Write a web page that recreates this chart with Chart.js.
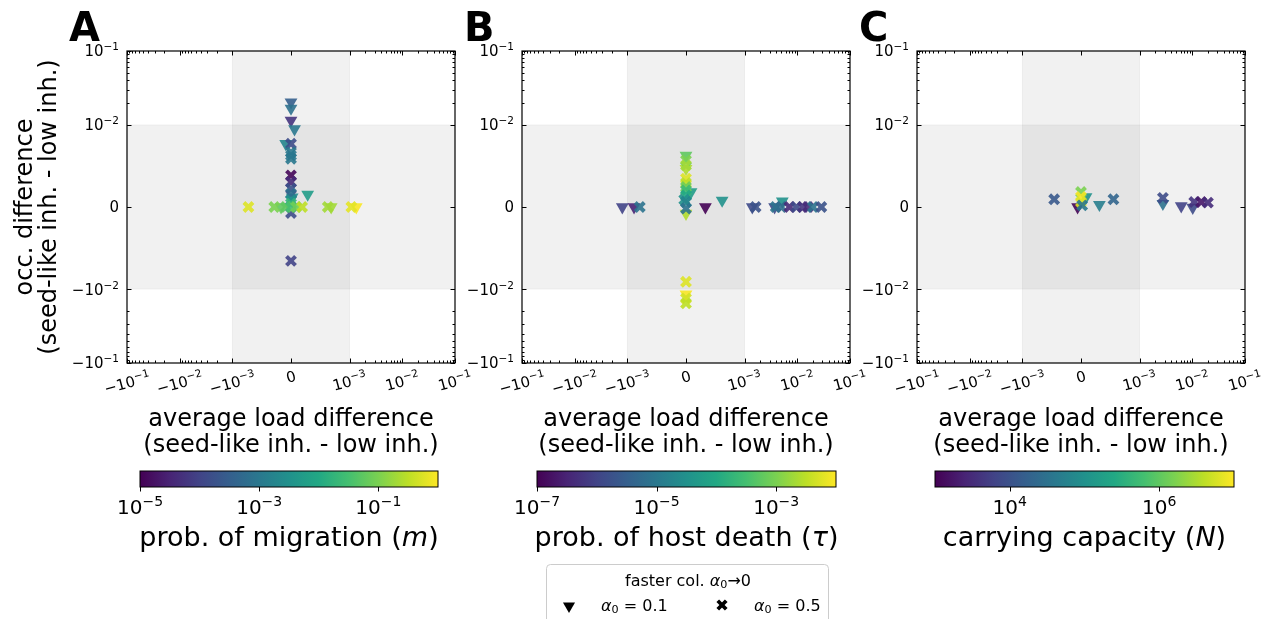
<!DOCTYPE html>
<html>
<head>
<meta charset="utf-8">
<script src="https://cdn.jsdelivr.net/npm/chart.js@4.4.1/dist/chart.umd.min.js"></script>
<style>
  body { margin: 0; background: #fff; }
  #wrap { position: relative; width: 1272px; height: 619px; overflow: hidden; }
  #wrap canvas { position: absolute; left: 0; top: 0; }
</style>
</head>
<body>
<div id="wrap">
  <canvas id="pA" width="1272" height="619"></canvas>
  <canvas id="pB" width="1272" height="619"></canvas>
  <canvas id="pC" width="1272" height="619"></canvas>
  <canvas id="cA" width="1272" height="619"></canvas>
  <canvas id="cB" width="1272" height="619"></canvas>
  <canvas id="cC" width="1272" height="619"></canvas>
</div>
<script>
// ---- data ----
// x = average load difference, y = occ. difference, c = colour variable
// panel A: prob. of migration m
const loadA_tri = [0, 0, 0, 0.00006, -0.00009, 0.000285, 0.00002, -0.00017, 0.000686, 0.00134];
const occA_tri  = [0.0203, 0.0167, 0.0115, 0.0095, 0.0077, 0.00154, 0.0012, 0, 0, 0];
const migA_tri  = [3.2e-4, 7.1e-4, 5.6e-5, 1e-3, 1.8e-3, 5.6e-3, 2.5e-3, 0.06, 0.2, 0.95];
const loadA_x = [0, 0, 0, 0, 0, 0, 0, 0, 0, 0, 0, 0, -0.000727, -0.000286, -0.000086, 0, 0.000086, 0.000189, 0.000628, 0.00108];
const occA_x  = [0.0077, 0.00668, 0.00628, 0.00588, 0.00385, 0.00304, 0.00224, 0.00163, 0.00081, 0.00041, -0.00073, -0.00656, 0, 0, 0, 0, 0, 0, 0, 0];
const migA_x  = [1.4e-4, 1e-3, 1e-3, 1e-3, 1.2e-5, 4e-5, 1.8e-4, 6.3e-4, 3.2e-3, 0.018, 1.4e-4, 1e-4, 0.56, 0.1, 0.056, 0.032, 0.08, 0.32, 0.2, 0.63];

// panel B: prob. of host death tau
const loadB_tri = [0, 0, 0.000086, 0, 0, -0.00125, -0.000887, 0.000331, 0.000617, 0.0014, 0.00371, 0.0052];
const occB_tri  = [0.00628, 0.00467, 0.00182, -0.0008, -0.0117, 0, 0, 0, 0.00081, 0, 0, 0.0007];
const tauB_tri  = [5.6e-4, 2.5e-3, 5.6e-5, 2.5e-3, 9e-3, 1e-6, 3.2e-7, 1e-7, 3.2e-5, 1.3e-6, 1.3e-6, 3.2e-5];
const loadB_x = [0, 0, 0, 0, 0, 0, 0, -0.00003, 0, 0, 0, 0, 0, -0.000789, 0.00162, 0.0039, 0.00497, 0.0071, 0.0096, 0.0128, 0.0159, 0.0198, 0.0286];
const occB_x  = [0.00567, 0.00507, 0.00345, 0.00292, 0.00243, 0.00203, 0.00142, 0.0009, 0.00061, -0.00019, -0.00911, -0.0134, -0.0156, 0, 0, 0, 0, 0, 0, 0, 0, 0, 0];
const tauB_x  = [1e-3, 2e-3, 5.6e-3, 3.2e-3, 7.9e-4, 2.5e-4, 1e-4, 3.2e-5, 1.8e-5, 7.9e-6, 5.6e-3, 4.5e-3, 3.2e-3, 7.9e-6, 1.8e-6, 7.9e-6, 5.6e-6, 4e-7, 1.3e-6, 5.6e-7, 4e-7, 7.9e-6, 1.8e-6];

// panel C: carrying capacity N
const loadC_tri = [0.000086, -0.000058, 0.000314, 0.00277, 0.00617, 0.0102];
const occC_tri  = [0.00122, 0, 0.00029, 0.00041, 0.00012, -0.00007];
const capC_tri  = [1e5, 1.1e3, 5e4, 3.2e4, 6.3e3, 7.9e3];
const loadC_x = [-0.000458, 0, 0, 0, 0.00002, 0.000554, 0.00277, 0.0109, 0.0148, 0.0198];
const occC_x  = [0.00094, 0.00182, 0.00122, 0.00061, 0.0002, 0.00094, 0.0011, 0.00061, 0.00061, 0.00053];
const capC_x  = [1.3e4, 1.6e6, 9e6, 6.3e6, 4e4, 2e4, 7.9e3, 4e3, 1.8e3, 3.2e3];

// axis ticks
const xTicks = [-0.1, -0.01, -0.001, 0, 0.001, 0.01, 0.1];
const yTicks = [-0.1, -0.01, 0, 0.01, 0.1];
const cbarTicksA = [1e-5, 1e-3, 1e-1];
const cbarTicksB = [1e-7, 1e-5, 1e-3];
const cbarTicksC = [1e4, 1e6];

const FONT = '"DejaVu Sans", "Liberation Sans", sans-serif';
const viridis = ['#440154', '#482475', '#414487', '#355f8d', '#2a788e', '#21918c',
                 '#22a884', '#44bf70', '#7ad151', '#bddf26', '#fde725'];

function hexRgb(h) {
  return [parseInt(h.slice(1, 3), 16), parseInt(h.slice(3, 5), 16), parseInt(h.slice(5, 7), 16)];
}
function viridisAt(t, alpha) {
  t = Math.min(1, Math.max(0, t));
  const s = t * 10, i = Math.min(9, Math.floor(s)), f = s - i;
  const a = hexRgb(viridis[i]), b = hexRgb(viridis[i + 1]);
  const c = a.map((v, k) => Math.round(v + (b[k] - v) * f));
  return `rgba(${c[0]},${c[1]},${c[2]},${alpha})`;
}
function colorsFor(vals, lo, hi) {
  const l0 = Math.log10(lo), l1 = Math.log10(hi);
  return vals.map(v => viridisAt((Math.log10(v) - l0) / (l1 - l0), 0.9));
}

// ---- symmetric log scale (matplotlib style, linscale 1) ----
class SymlogScale extends Chart.Scale {
  static id = 'symlog';
  static defaults = {};
  tf(v) {
    const th = this.options.linthresh, ls = 1 / (1 - 1 / 10), a = Math.abs(v);
    if (a <= th) return v / th * ls;
    return Math.sign(v) * (ls + Math.log10(a / th));
  }
  itf(t) {
    const th = this.options.linthresh, ls = 1 / (1 - 1 / 10), a = Math.abs(t);
    if (a <= ls) return t / ls * th;
    return Math.sign(t) * th * Math.pow(10, a - ls);
  }
  determineDataLimits() {
    this.min = this.options.min;
    this.max = this.options.max;
  }
  buildTicks() {
    return (this.options.tickValues || []).map(v => ({ value: v }));
  }
  getLabelForValue(v) { return String(v); }
  configure() {
    super.configure();
    this._t0 = this.tf(this.min);
    this._t1 = this.tf(this.max);
  }
  getPixelForValue(v) {
    return this.getPixelForDecimal((this.tf(v) - this._t0) / (this._t1 - this._t0));
  }
  getValueForPixel(p) {
    return this.itf(this._t0 + this.getDecimalForPixel(p) * (this._t1 - this._t0));
  }
}
Chart.register(SymlogScale);

// ---- text helpers (mathtext-like super/subscripts) ----
function partFont(p, size) {
  const s = (p.sub || p.sup) ? size * 0.7 : size;
  return (p.it ? 'italic ' : '') + (p.b ? 'bold ' : '') + s + 'px ' + FONT;
}
function partsWidth(ctx, parts, size) {
  let w = 0;
  parts.forEach(p => { ctx.font = partFont(p, size); w += ctx.measureText(p.t).width; });
  return w;
}
function drawParts(ctx, parts, x, y, size, align) {
  const w = partsWidth(ctx, parts, size);
  let cx = align === 'right' ? x - w : align === 'center' ? x - w / 2 : x;
  const base = y + size * 0.365;
  ctx.textAlign = 'left';
  ctx.textBaseline = 'alphabetic';
  parts.forEach(p => {
    ctx.font = partFont(p, size);
    const dy = p.sup ? -size * 0.4 : p.sub ? size * 0.16 : 0;
    ctx.fillText(p.t, cx, base + dy);
    cx += ctx.measureText(p.t).width;
  });
  return w;
}
function powParts(v) {
  if (v === 0) return [{ t: '0' }];
  const e = Math.round(Math.log10(Math.abs(v)));
  return [{ t: (v < 0 ? '\u2212' : '') + '10' }, { t: (e < 0 ? '\u2212' : '') + Math.abs(e), sup: true }];
}

function minorValues(lo, hi) {
  const out = [];
  for (let d = lo; d < hi; d *= 10) {
    for (let k = 2; k <= 9; k++) { out.push(k * d); out.push(-k * d); }
  }
  return out;
}

const panelDecor = {
  id: 'panelDecor',
  beforeDatasetsDraw(chart) {
    const { ctx, chartArea: a, scales: { x, y } } = chart;
    ctx.save();
    ctx.fillStyle = 'rgba(0,0,0,0.055)';
    ctx.strokeStyle = 'rgba(0,0,0,0.05)';
    ctx.lineWidth = 1;
    const x1 = x.getPixelForValue(-x.options.linthresh), x2 = x.getPixelForValue(x.options.linthresh);
    ctx.fillRect(x1, a.top, x2 - x1, a.bottom - a.top);
    ctx.strokeRect(x1, a.top, x2 - x1, a.bottom - a.top);
    const y1 = y.getPixelForValue(y.options.linthresh), y2 = y.getPixelForValue(-y.options.linthresh);
    ctx.fillRect(a.left, y1, a.right - a.left, y2 - y1);
    ctx.strokeRect(a.left, y1, a.right - a.left, y2 - y1);
    ctx.restore();
  },
  afterDatasetsDraw(chart) {
    const { ctx, chartArea: a, scales: { x, y } } = chart;
    ctx.save();
    ctx.strokeStyle = '#000';
    ctx.lineWidth = 1;
    const tick = (vals, len, horiz) => {
      ctx.beginPath();
      vals.forEach(v => {
        if (horiz) {
          const px = Math.round(x.getPixelForValue(v)) + 0.5;
          ctx.moveTo(px, a.bottom); ctx.lineTo(px, a.bottom - len);
          ctx.moveTo(px, a.top); ctx.lineTo(px, a.top + len);
        } else {
          const py = Math.round(y.getPixelForValue(v)) + 0.5;
          ctx.moveTo(a.left, py); ctx.lineTo(a.left + len, py);
          ctx.moveTo(a.right, py); ctx.lineTo(a.right - len, py);
        }
      });
      ctx.stroke();
    };
    tick(xTicks, 4.5, true);
    tick(minorValues(1e-3, 1e-1), 2.5, true);
    tick(yTicks, 4.5, false);
    tick(minorValues(1e-2, 1e-1), 2.5, false);
    ctx.lineWidth = 1.2;
    ctx.strokeRect(a.left, a.top, a.right - a.left, a.bottom - a.top);
    ctx.restore();
  },
  afterDraw(chart, args, opts) {
    const { ctx, chartArea: a, scales: { x, y } } = chart;
    ctx.save();
    ctx.fillStyle = '#000';
    const fs = 15;
    // y tick labels
    yTicks.forEach(v => drawParts(ctx, powParts(v), a.left - 8, y.getPixelForValue(v), fs, 'right'));
    // x tick labels, rotated
    const ang = 15 * Math.PI / 180;
    xTicks.forEach(v => {
      const parts = powParts(v);
      const w = partsWidth(ctx, parts, fs);
      const h = v === 0 ? fs * 0.73 : fs * 0.9;
      const H = w * Math.sin(ang) + h * Math.cos(ang);
      ctx.save();
      ctx.translate(x.getPixelForValue(v), a.bottom + 7 + H / 2);
      ctx.rotate(-ang);
      drawParts(ctx, parts, 0, 0, fs, 'center');
      ctx.restore();
    });
    // x title
    const cx = (a.left + a.right) / 2;
    drawParts(ctx, [{ t: 'average load difference' }], cx, 417, 24, 'center');
    drawParts(ctx, [{ t: '(seed-like inh. - low inh.)' }], cx, 443, 24, 'center');
    // y title
    if (opts.yTitle) {
      ctx.save();
      ctx.translate(26, (a.top + a.bottom) / 2);
      ctx.rotate(-Math.PI / 2);
      drawParts(ctx, [{ t: 'occ. difference' }], 0, -3, 24, 'center');
      drawParts(ctx, [{ t: '(seed-like inh. - low inh.)' }], 0, 21, 24, 'center');
      ctx.restore();
    }
    // panel letter
    ctx.font = 'bold 40px ' + FONT;
    ctx.textAlign = 'left';
    ctx.textBaseline = 'alphabetic';
    ctx.fillText(opts.letter, a.left - 58, 41);
    // legend (only once, under panel B)
    if (opts.legend) {
      ctx.fillStyle = 'rgba(255,255,255,0.8)';
      ctx.strokeStyle = '#cccccc';
      ctx.lineWidth = 1;
      ctx.beginPath();
      ctx.roundRect(546.5, 564.5, 282, 70, 4);
      ctx.fill();
      ctx.stroke();
      ctx.fillStyle = '#000';
      drawParts(ctx, [{ t: 'faster col. ' }, { t: '\u03b1', it: true }, { t: '0', sub: true }, { t: '\u21920' }], 688, 580, 16, 'center');
      Chart.helpers.drawPoint(ctx, { pointStyle: 'triangle', rotation: 180, radius: 7, borderWidth: 0 }, 569, 606);
      drawParts(ctx, [{ t: '\u03b1', it: true }, { t: '0', sub: true }, { t: ' = 0.1' }], 601, 605, 16, 'left');
      ctx.strokeStyle = '#000';
      ctx.lineWidth = 3.8;
      Chart.helpers.drawPoint(ctx, { pointStyle: 'crossRot', rotation: 0, radius: 6, borderWidth: 3.8 }, 722, 605);
      drawParts(ctx, [{ t: '\u03b1', it: true }, { t: '0', sub: true }, { t: ' = 0.5' }], 754, 605, 16, 'left');
    }
    ctx.restore();
  }
};

function makePanel(id, left, letter, tri, crs, cmin, cmax, extra) {
  const right = left + 328;
  const triColors = colorsFor(tri[2], cmin, cmax);
  const crsColors = colorsFor(crs[2], cmin, cmax);
  return new Chart(document.getElementById(id), {
    type: 'scatter',
    data: {
      datasets: [
        {
          label: 'alpha0 = 0.5',
          data: crs[0].map((v, i) => ({ x: v, y: crs[1][i] })),
          pointStyle: 'crossRot',
          pointRadius: 6.4,
          pointBorderWidth: 4,
          pointBorderColor: crsColors,
          pointBackgroundColor: crsColors
        },
        {
          label: 'alpha0 = 0.1',
          data: tri[0].map((v, i) => ({ x: v, y: tri[1][i] })),
          pointStyle: 'triangle',
          pointRotation: 180,
          pointRadius: 7.4,
          pointBorderWidth: 0,
          pointBackgroundColor: triColors
        }
      ]
    },
    options: {
      responsive: false,
      animation: false,
      devicePixelRatio: 1,
      events: [],
      layout: { padding: { left: left, right: 1272 - right, top: 51, bottom: 619 - 363 } },
      plugins: {
        legend: { display: false },
        tooltip: { enabled: false },
        panelDecor: Object.assign({ letter: letter }, extra)
      },
      scales: {
        x: { type: 'symlog', min: -0.1, max: 0.1, linthresh: 1e-3, tickValues: xTicks, display: false },
        y: { type: 'symlog', min: -0.1, max: 0.1, linthresh: 1e-2, tickValues: yTicks, display: false }
      }
    },
    plugins: [panelDecor]
  });
}

const cbarDecor = {
  id: 'cbarDecor',
  afterDraw(chart, args, opts) {
    const { ctx, chartArea: a, scales: { x } } = chart;
    ctx.save();
    const g = ctx.createLinearGradient(a.left, 0, a.right, 0);
    viridis.forEach((c, i) => g.addColorStop(i / 10, c));
    ctx.fillStyle = g;
    ctx.fillRect(a.left, a.top, a.right - a.left, a.bottom - a.top);
    ctx.strokeStyle = '#000';
    ctx.lineWidth = 1;
    ctx.strokeRect(a.left, a.top, a.right - a.left, a.bottom - a.top);
    ctx.beginPath();
    opts.ticks.forEach(v => {
      const px = Math.round(x.getPixelForValue(v)) + 0.5;
      ctx.moveTo(px, a.bottom); ctx.lineTo(px, a.bottom + 4.5);
    });
    ctx.stroke();
    ctx.fillStyle = '#000';
    opts.ticks.forEach(v => drawParts(ctx, powParts(v), x.getPixelForValue(v), 507, 20, 'center'));
    drawParts(ctx, opts.title, (a.left + a.right) / 2, 536, 27, 'center');
    ctx.restore();
  }
};

function makeCbar(id, left, right, cmin, cmax, ticks, title) {
  return new Chart(document.getElementById(id), {
    type: 'scatter',
    data: { datasets: [] },
    options: {
      responsive: false,
      animation: false,
      devicePixelRatio: 1,
      events: [],
      layout: { padding: { left: left, right: 1272 - right, top: 471, bottom: 619 - 487 } },
      plugins: {
        legend: { display: false },
        tooltip: { enabled: false },
        cbarDecor: { ticks: ticks, title: title }
      },
      scales: {
        x: { type: 'logarithmic', min: cmin, max: cmax, display: false },
        y: { display: false }
      }
    },
    plugins: [cbarDecor]
  });
}

makePanel('pA', 127, 'A', [loadA_tri, occA_tri, migA_tri], [loadA_x, occA_x, migA_x], 1e-5, 1, { yTitle: true });
makePanel('pB', 522, 'B', [loadB_tri, occB_tri, tauB_tri], [loadB_x, occB_x, tauB_x], 1e-7, 1e-2, { legend: true });
makePanel('pC', 917, 'C', [loadC_tri, occC_tri, capC_tri], [loadC_x, occC_x, capC_x], 1e3, 1e7, {});

makeCbar('cA', 140, 438, 1e-5, 1, cbarTicksA,
  [{ t: 'prob. of migration (' }, { t: 'm', it: true }, { t: ')' }]);
makeCbar('cB', 537, 836, 1e-7, 1e-2, cbarTicksB,
  [{ t: 'prob. of host death (' }, { t: '\u03c4', it: true }, { t: ')' }]);
makeCbar('cC', 935, 1234, 1e3, 1e7, cbarTicksC,
  [{ t: 'carrying capacity (' }, { t: 'N', it: true }, { t: ')' }]);
</script>
</body>
</html>
